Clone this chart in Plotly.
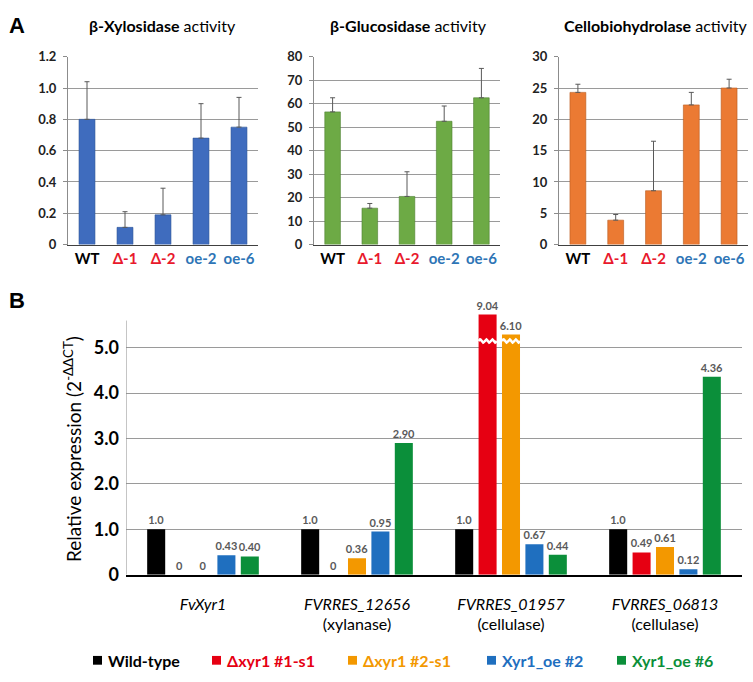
import numpy as np
import plotly.graph_objects as go

W, H = 753, 682

# ---------------- data ----------------
strains_a = ["WT", "Δ-1", "Δ-2", "oe-2", "oe-6"]
strain_colors = ["#000000", "#E8192C", "#E8192C", "#2E75B6", "#2E75B6"]

xylosidase = [0.80, 0.11, 0.19, 0.68, 0.75]
xylosidase_err = [0.24, 0.10, 0.17, 0.22, 0.19]
glucosidase = [56.5, 15.5, 20.5, 52.5, 62.5]
glucosidase_err = [6.0, 2.0, 10.5, 6.5, 12.5]
cellobio = [24.3, 3.9, 8.6, 22.3, 25.0]
cellobio_err = [1.3, 0.9, 7.9, 2.0, 1.4]

genes = ["<i>FvXyr1</i>", "<i>FVRRES_12656</i><br>(xylanase)",
         "<i>FVRRES_01957</i><br>(cellulase)", "<i>FVRRES_06813</i><br>(cellulase)"]
series_b = ["Wild-type", "Δxyr1 #1-s1", "Δxyr1 #2-s1", "Xyr1_oe #2", "Xyr1_oe #6"]
colors_b = ["#000000", "#E60012", "#F39800", "#1F6FBF", "#0B8F3A"]
wild_type = [1.0, 1.0, 1.0, 1.0]
dxyr1_1 = [0.0, 0.0, 9.04, 0.49]
dxyr1_2 = [0.0, 0.36, 6.10, 0.61]
oe_2 = [0.43, 0.95, 0.67, 0.12]
oe_6 = [0.40, 2.90, 0.44, 4.36]
labels_b = [["1.0", "1.0", "1.0", "1.0"],
            ["0", "0", "9.04", "0.49"],
            ["0", "0.36", "6.10", "0.61"],
            ["0.43", "0.95", "0.67", "0.12"],
            ["0.40", "2.90", "0.44", "4.36"]]

# axis break for panel B
BREAK = 5.15
COMPRESS = 0.15


def shown(v):
    return v if v <= BREAK else BREAK + (v - BREAK) * COMPRESS


FONT = "Lato, 'Open Sans', Arial, sans-serif"

fig = go.Figure()


def px_x(a, b):
    return [a / W, b / W]


def px_y(top, bottom):
    return [1 - bottom / H, 1 - top / H]


panels = [
    ("<b>β-Xylosidase</b> activity", xylosidase, xylosidase_err, "#3F6CBE", "#2F5597",
     [0, 1.2], [0, 0.2, 0.4, 0.6, 0.8, 1.0, 1.2], ["0", "0.2", "0.4", "0.6", "0.8", "1.0", "1.2"], (68, 258)),
    ("<b>β-Glucosidase</b> activity", glucosidase, glucosidase_err, "#6DAA45", "#4E7F30",
     [0, 80], list(range(0, 81, 10)), [str(v) for v in range(0, 81, 10)], (314, 500)),
    ("<b>Cellobiohydrolase</b> activity", cellobio, cellobio_err, "#EB7A33", "#B85A1E",
     [0, 30], list(range(0, 31, 5)), [str(v) for v in range(0, 31, 5)], (559, 748)),
]
title_x = [162, 408, 656]

ticktext_a = [f"<b><span style='color:{c}'>{s}</span></b>" for s, c in zip(strains_a, strain_colors)]

for i, (title, vals, errs, col, lcol, rng, tv, tt, (x0, x1)) in enumerate(panels):
    k = "" if i == 0 else str(i + 1)
    fig.add_trace(go.Bar(
        x=list(range(len(strains_a))), y=vals,
        marker=dict(color=col, line=dict(color=lcol, width=0.6)),
        width=0.42,
        error_y=dict(type="data", array=errs, symmetric=False, arrayminus=[0] * 5,
                     color="#595959", thickness=1, width=2.5),
        xaxis="x" + k, yaxis="y" + k, showlegend=False, hoverinfo="skip"))
    fig.layout["xaxis" + k] = dict(
        domain=px_x(x0, x1), anchor="y" + k, range=[-0.5, 4.5],
        tickvals=list(range(5)), ticktext=ticktext_a,
        tickfont=dict(family=FONT, size=15, color="#000"),
        showline=True, linecolor="#404040", linewidth=1, ticks="", showgrid=False,
        fixedrange=True)
    fig.layout["yaxis" + k] = dict(
        domain=px_y(50, 243), anchor="x" + k, range=rng,
        tickvals=tv, ticktext=[f"<b>{t}</b>" for t in tt],
        tickfont=dict(family=FONT, size=13, color="#222"),
        showline=True, linecolor="#8c8c8c", linewidth=1,
        ticks="outside", ticklen=4, tickcolor="#8c8c8c", ticklabelstandoff=4,
        showgrid=True, gridcolor="#9a9a9a", gridwidth=1, zeroline=False,
        fixedrange=True)
    fig.add_annotation(text=title, x=title_x[i] / W, y=1 - 18 / H, xref="paper", yref="paper",
                       showarrow=False, font=dict(family=FONT, size=16, color="#000"),
                       xanchor="center", yanchor="middle")

# ---------------- panel B ----------------
all_b = [wild_type, dxyr1_1, dxyr1_2, oe_2, oe_6]
for j, (name, vals, col) in enumerate(zip(series_b, all_b, colors_b)):
    fig.add_trace(go.Bar(
        x=list(range(4)), y=[shown(v) for v in vals], name=name,
        marker=dict(color=col, line=dict(width=0)),
        text=[f"<b>{t}</b>" for t in labels_b[j]], textposition="outside", constraintext="none",
        cliponaxis=False, showlegend=False,
        textfont=dict(family=FONT, size=11, color="#595959"),
        xaxis="x4", yaxis="y4", hoverinfo="skip"))

BARGAP = 0.24
GROUPGAP = 0.23
fig.update_layout(bargap=BARGAP, bargroupgap=GROUPGAP, barmode="group")

# wavy break marks on broken bars
slot = (1 - BARGAP) / len(series_b)
bw = slot * (1 - GROUPGAP)
for j, vals in enumerate(all_b):
    for i, v in enumerate(vals):
        if v > BREAK:
            c = i - (1 - BARGAP) / 2 + slot * (j + 0.5)
            xs = np.linspace(c - bw / 2, c + bw / 2, 40)
            ys = BREAK + 0.035 * np.sin((xs - xs[0]) / bw * 2 * np.pi * 3)
            fig.add_trace(go.Scatter(x=xs, y=ys, mode="lines", line=dict(color="white", width=2.5),
                                     xaxis="x4", yaxis="y4", showlegend=False, hoverinfo="skip",
                                     cliponaxis=False))

YTOP_B = 6.2
fig.layout["xaxis4"] = dict(
    domain=px_x(126, 742), anchor="y4", range=[-0.5, 3.5],
    tickvals=list(range(4)), ticktext=genes,
    tickfont=dict(family=FONT, size=16, color="#000"), ticklabelstandoff=14,
    showline=True, linecolor="#000", linewidth=1.5, ticks="", showgrid=False, fixedrange=True)
fig.layout["yaxis4"] = dict(
    domain=px_y(582 - YTOP_B * 46.6, 582), anchor="x4", range=[0, YTOP_B],
    tickvals=[0, 1, 2, 3, 4, 5], ticktext=["<b>0</b>", "<b>1.0</b>", "<b>2.0</b>", "<b>3.0</b>",
                                           "<b>4.0</b>", "<b>5.0</b>"],
    tickfont=dict(family=FONT, size=18, color="#000"),
    showline=False, ticks="", ticklabelstandoff=6,
    showgrid=True, gridcolor="#9a9a9a", gridwidth=1, zeroline=False,
    fixedrange=True)
# y-axis title of panel B
fig.add_annotation(text="Relative expression (2<sup>-ΔΔCT</sup>)", x=72 / W, y=1 - 453 / H,
                   xref="paper", yref="paper", showarrow=False, textangle=-90,
                   font=dict(family=FONT, size=19, color="#000"), xanchor="center", yanchor="middle")
# left axis line of panel B (stops below the broken bars' tops)
fig.add_shape(type="line", xref="x4", yref="y4", x0=-0.5, x1=-0.5, y0=0, y1=5.6,
              line=dict(color="#8c8c8c", width=1))

# legend (drawn as swatches + coloured labels)
legend_sq_x = [93, 212, 348, 487, 617]
LEG_Y = 670
for name, col, sx in zip(series_b, colors_b, legend_sq_x):
    fig.add_shape(type="rect", xref="paper", yref="paper",
                  x0=sx / W, x1=(sx + 9) / W, y0=1 - (LEG_Y + 4.5) / H, y1=1 - (LEG_Y - 4.5) / H,
                  fillcolor=col, line=dict(width=0))
    fig.add_annotation(text=f"<b>{name}</b>", x=(sx + 13) / W, y=1 - LEG_Y / H, xref="paper", yref="paper",
                       showarrow=False, xanchor="left", yanchor="middle",
                       font=dict(family=FONT, size=16, color=col))

# panel letters
fig.add_annotation(text="<b>A</b>", x=17 / W, y=1 - 18 / H, xref="paper", yref="paper", showarrow=False,
                   font=dict(family="Arial, sans-serif", size=22, color="#000"), xanchor="center", yanchor="middle")
fig.add_annotation(text="<b>B</b>", x=17 / W, y=1 - 300 / H, xref="paper", yref="paper", showarrow=False,
                   font=dict(family="Arial, sans-serif", size=22, color="#000"), xanchor="center", yanchor="middle")

fig.update_layout(
    width=W, height=H, margin=dict(l=0, r=0, t=0, b=0),
    paper_bgcolor="white", plot_bgcolor="white",
    font=dict(family=FONT), showlegend=False,
)

fig.write_html("out.html", config={"displayModeBar": False},
               post_script="document.body.style.margin='0';document.body.style.overflow='hidden';")
